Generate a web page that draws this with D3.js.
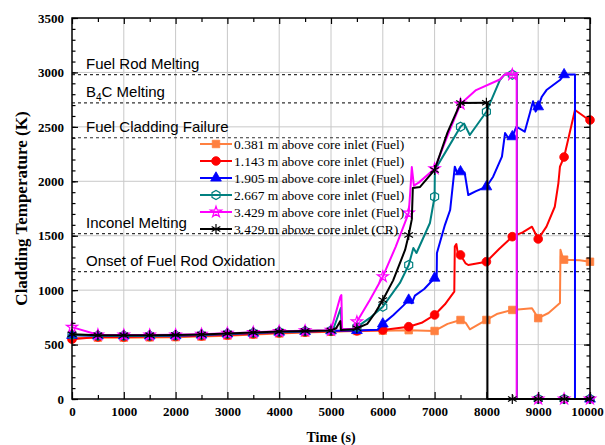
<!DOCTYPE html>
<html><head><meta charset="utf-8">
<script src="https://cdn.jsdelivr.net/npm/d3@7"></script>
<style>body{margin:0;background:#fff}svg{display:block}</style>
</head><body><svg id="c" width="605" height="445"></svg>
<script>
// ---------- data ----------
const xTicks = [0,1000,2000,3000,4000,5000,6000,7000,8000,9000,10000];
const xMinor = [500,1500,2500,3500,4500,5500,6500,7500,8500,9500];
const yTicks = [0,500,1000,1500,2000,2500,3000,3500];
const yMinor = d3.range(0,3501,100);

const seriesNames = [
  "0.381 m above core inlet (Fuel)",
  "1.143 m above core inlet (Fuel)",
  "1.905 m above core inlet (Fuel)",
  "2.667 m above core inlet (Fuel)",
  "3.429 m above core inlet (Fuel)",
  "3.429 m above core inlet (CR)"
];
const seriesColors = ["#FF8040","#FF0000","#0000FF","#008080","#FF00FF","#000000"];
const seriesMarkers = ["square","circle","triangle","hexagon","star","asterisk"];

const s0381 = [[0,560],[500,563],[1000,563],[1500,566],[2000,568],[2500,573],[3000,582],[3500,592],[4000,602],[4500,610],[5000,618],[5500,624],[6000,628],[6500,632],[7000,625],[7250,690],[7500,726],[7600,700],[7680,640],[8000,726],[8200,780],[8500,818],[8880,833],[9000,743],[9200,790],[9420,881],[9430,1370],[9480,1290],[9500,1280],[9800,1275],[10000,1261]];
const s1143 = [[0,550],[500,570],[1000,570],[1500,573],[2000,575],[2500,580],[3000,588],[3500,598],[4000,608],[4500,615],[5000,622],[5500,626],[6000,634],[6500,664],[6750,700],[7000,772],[7200,870],[7380,986],[7390,1400],[7420,1424],[7450,1330],[7500,1323],[7600,1245],[7650,1231],[8000,1261],[8250,1380],[8500,1491],[8700,1530],[8880,1583],[9000,1470],[9160,1583],[9320,1766],[9390,1984],[9420,2134],[9500,2223],[9710,2655],[9900,2590],[10000,2563]];
const s1905 = [[0,585],[500,580],[1000,580],[1500,580],[2000,582],[2500,588],[3000,598],[3500,606],[4000,615],[4500,621],[5000,627],[5500,630],[5900,636],[6000,690],[6200,770],[6400,860],[6500,909],[6560,880],[6620,950],[6800,1010],[7000,1111],[7040,1120],[7045,1341],[7200,1600],[7300,1736],[7390,2134],[7440,2070],[7500,2088],[7580,2080],[7650,1874],[7800,1910],[8000,1950],[8130,2042],[8300,2226],[8360,2443],[8420,2400],[8500,2410],[8580,2501],[8740,2456],[8840,2627],[8900,2736],[8950,2640],[9000,2685],[9070,2777],[9160,2838],[9420,2930],[9500,2980],[9710,2980],[9710,0],[10000,0]];
const s2667 = [[0,590],[500,582],[1000,582],[1500,582],[2000,584],[2500,590],[3000,600],[3500,608],[4000,617],[4500,623],[5000,628],[5050,650],[5190,836],[5205,636],[5450,640],[5500,660],[5750,745],[6000,848],[6330,1066],[6500,1231],[6590,1387],[6650,1341],[6910,1617],[7000,1858],[7005,2104],[7250,2300],[7500,2501],[7570,2530],[7680,2425],[8000,2639],[8260,2930],[8350,2980],[8500,2980],[8590,2980],[8590,0],[9000,0],[9500,0],[10000,0]];
const s3429f = [[0,660],[500,590],[1000,588],[1500,588],[2000,590],[2500,595],[3000,605],[3500,612],[4000,622],[4500,628],[5000,632],[5040,700],[5180,940],[5200,955],[5215,640],[5450,645],[5500,710],[5750,910],[6000,1124],[6250,1400],[6500,1709],[6530,1900],[6560,2131],[6600,1960],[6700,1990],[7000,2115],[7250,2420],[7500,2710],[7800,2838],[8260,2935],[8350,2980],[8500,2980],[8585,2980],[8585,0],[9000,0],[9500,0],[10000,0]];
const s3429cr = [[0,595],[500,585],[1000,585],[1500,585],[2000,587],[2500,593],[3000,602],[3500,610],[4000,619],[4500,625],[5000,630],[5100,650],[5180,716],[5190,635],[5450,640],[5500,650],[5700,690],[5850,790],[6000,909],[6200,1090],[6430,1369],[6500,1506],[6560,1650],[6580,1938],[6720,1948],[7000,2104],[7250,2450],[7500,2720],[8000,2722],[8020,2722],[8020,0],[8500,0],[9000,0],[9500,0],[10000,0]];
const seriesData = [s0381,s1143,s1905,s2667,s3429f,s3429cr];

const limitValues = [2980,2720,2400,1520,1170];
const limitLabels = ["Fuel Rod Melting","B|4|C Melting","Fuel Cladding Failure","Inconel Melting","Onset of Fuel Rod Oxidation"];

// ---------- layout ----------
const svg = d3.select("#c");
const L=72,R=590,T=18,B=399;
const x = d3.scaleLinear().domain([0,10000]).range([L,R]);
const y = d3.scaleLinear().domain([0,3500]).range([B,T]);
const serif = "'Liberation Serif','Times New Roman',serif";
const sans = "'Liberation Sans',Arial,sans-serif";
const fmt = d3.format("d");

// grid
const grid = svg.append("g").attr("stroke","#c8c8c8").attr("stroke-width",1);
grid.selectAll("line.v").data(xTicks.slice(1,-1)).join("line")
  .attr("x1",d=>x(d)).attr("x2",d=>x(d)).attr("y1",T).attr("y2",B);
grid.selectAll("line.h").data(yTicks.slice(1,-1)).join("line")
  .attr("x1",L).attr("x2",R).attr("y1",d=>y(d)).attr("y2",d=>y(d));

// limit lines
const lim = svg.append("g");
limitValues.forEach((v,i)=>{
  lim.append("line").attr("x1",L).attr("x2",R).attr("y1",y(v)).attr("y2",y(v))
    .attr("stroke","#333").attr("stroke-width",1.2).attr("stroke-dasharray","3,3");
  const parts = limitLabels[i].split("|");
  const t = lim.append("text").attr("x",L+14).attr("y",y(v)-6)
    .attr("font-family",sans).attr("font-size",15).attr("fill","#000");
  if(parts.length===3){
    t.append("tspan").text(parts[0]);
    t.append("tspan").attr("font-size",10).attr("dy",4).text(parts[1]);
    t.append("tspan").attr("dy",-4).text(parts[2]);
  } else t.text(parts[0]);
});

// markers
function markerPath(kind){
  switch(kind){
    case "square": return d3.symbol(d3.symbolSquare,56)();
    case "circle": return d3.symbol(d3.symbolCircle,60)();
    case "triangle": return d3.symbol(d3.symbolTriangle,50)();
    case "star": return d3.symbol(d3.symbolStar,38)();
    case "hexagon": {
      const r=4.6, p=d3.path();
      for(let k=0;k<6;k++){const a=Math.PI/3*k+Math.PI/6; const px=r*Math.cos(a), py=r*Math.sin(a); k?p.lineTo(px,py):p.moveTo(px,py);}
      p.closePath(); return p.toString();
    }
    case "asterisk": {
      const r=5, p=d3.path();
      for(let k=0;k<3;k++){const a=Math.PI/2+Math.PI/3*k; p.moveTo(r*Math.cos(a),r*Math.sin(a)); p.lineTo(-r*Math.cos(a),-r*Math.sin(a));}
      return p.toString();
    }
  }
}
function markerStyle(sel,kind,color){
  const open = (kind==="hexagon"||kind==="star"||kind==="asterisk");
  sel.attr("d",markerPath(kind))
    .attr("fill",open?"none":color)
    .attr("stroke",color).attr("stroke-width",open?1.2:0.8);
}

const line = d3.line().x(d=>x(d[0])).y(d=>y(d[1]));
seriesData.forEach((data,i)=>{
  const g = svg.append("g");
  g.append("path").datum(data).attr("d",line).attr("fill","none")
    .attr("stroke",seriesColors[i]).attr("stroke-width",2).attr("stroke-linejoin","round");
  const seen = new Set();
  const mk = data.filter(d=>{ if(d[0]%500!==0||seen.has(d[0])) return false; seen.add(d[0]); return true; });
  g.selectAll("path.m").data(mk).join("path").attr("class","m")
    .attr("transform",d=>`translate(${x(d[0])},${y(d[1])})`)
    .call(s=>markerStyle(s,seriesMarkers[i],seriesColors[i]));
});

// axes
function styleAxis(g){ g.select(".domain").remove(); g.selectAll("line").attr("stroke","#000").attr("stroke-width",1.2); }
svg.append("g").attr("transform",`translate(${L},0)`)
  .call(d3.axisLeft(y).tickValues(yTicks).tickSize(-6).tickPadding(8).tickFormat(fmt))
  .call(styleAxis)
  .call(g=>g.selectAll("text").attr("font-family",serif).attr("font-weight","bold").attr("font-size",13));
svg.append("g").attr("transform",`translate(${L},0)`)
  .call(d3.axisLeft(y).tickValues(yMinor).tickSize(-3.5).tickFormat("")).call(styleAxis);
svg.append("g").attr("transform",`translate(${R},0)`)
  .call(d3.axisRight(y).tickValues(yTicks).tickSize(-6).tickFormat("")).call(styleAxis);
svg.append("g").attr("transform",`translate(${R},0)`)
  .call(d3.axisRight(y).tickValues(yMinor).tickSize(-3.5).tickFormat("")).call(styleAxis);
svg.append("g").attr("transform",`translate(0,${B})`)
  .call(d3.axisBottom(x).tickValues(xTicks).tickSize(-7).tickPadding(8).tickFormat(fmt))
  .call(styleAxis)
  .call(g=>g.selectAll("text").attr("font-family",serif).attr("font-weight","bold").attr("font-size",13)
     .attr("dx",d=>d===10000?-3:0));
svg.append("g").attr("transform",`translate(0,${B})`)
  .call(d3.axisBottom(x).tickValues(xMinor).tickSize(-4).tickFormat("")).call(styleAxis);
svg.append("g").attr("transform",`translate(0,${T})`)
  .call(d3.axisTop(x).tickValues(xTicks).tickSize(-6).tickFormat("")).call(styleAxis);
svg.append("g").attr("transform",`translate(0,${T})`)
  .call(d3.axisTop(x).tickValues(xMinor).tickSize(-4).tickFormat("")).call(styleAxis);

// frame
svg.append("rect").attr("x",L).attr("y",T).attr("width",R-L).attr("height",B-T)
  .attr("fill","none").attr("stroke","#000").attr("stroke-width",1.5);

// axis titles
svg.append("text").attr("x",(L+R)/2).attr("y",442).attr("text-anchor","middle")
  .attr("font-family",serif).attr("font-weight","bold").attr("font-size",14).text("Time (s)");
svg.append("text").attr("transform",`translate(27,${(T+B)/2}) rotate(-90)`).attr("text-anchor","middle")
  .attr("font-family",serif).attr("font-weight","bold").attr("font-size",17).text("Cladding Temperature (K)");

// legend
const lg = svg.append("g");
seriesNames.forEach((n,i)=>{
  const cy = 144 + i*17;
  lg.append("line").attr("x1",200).attr("x2",232).attr("y1",cy).attr("y2",cy)
    .attr("stroke",seriesColors[i]).attr("stroke-width",2);
  lg.append("path").attr("transform",`translate(216,${cy})`).call(s=>markerStyle(s,seriesMarkers[i],seriesColors[i]));
  lg.append("text").attr("x",234).attr("y",cy+4.5).attr("font-family",serif).attr("font-size",13.5).text(n);
});
</script></body></html>
